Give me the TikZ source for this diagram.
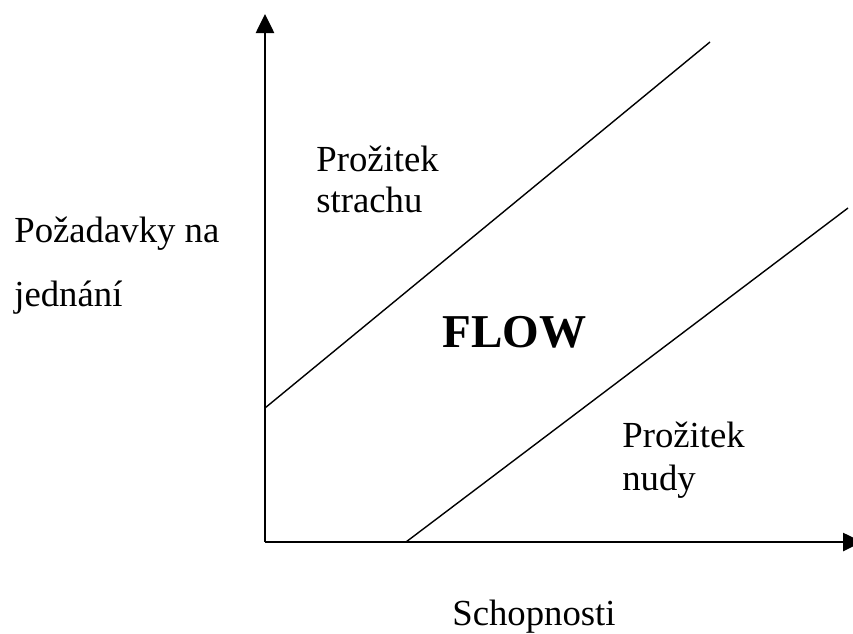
\documentclass[tikz,border=0pt]{standalone}
\usepackage{fontspec}
\setmainfont{Liberation Serif}
\usepackage{tikz}
\usetikzlibrary{positioning,arrows.meta,calc}

\begin{document}
\begin{tikzpicture}[font=\fontsize{20.9}{25}\selectfont,
      lbl/.style={inner sep=0pt,anchor=base west},
      axis/.style={line width=1.5pt,-{Triangle[length=0.38cm,width=0.36cm]}},
      bound/.style={line width=0.8pt}]
    \useasboundingbox (-5.30,-1.82) rectangle (11.76,10.84);
    % axes
    \coordinate (O) at (0,0);
    \coordinate (ytip) at (0,10.56);
    \coordinate (xtip) at (11.94,0);
    \draw[axis] (O) -- (ytip);
    \draw[axis] (O) -- (xtip);
    % channel borders
    \coordinate (upA) at (0,2.68);
    \coordinate (upB) at (8.9,10.0);
    \coordinate (loA) at (2.82,0);
    \coordinate (loB) at (11.66,6.68);
    \draw[bound] (upA) -- (upB);
    \draw[bound] (loA) -- (loB);
    % labels
    \node[lbl] (demand1) at (-5.02,6.00) {Požadavky na};
    \node[lbl] (demand2) at (-5.02,4.72) {jednání};
    \node[lbl] (fear1) at (1.02,7.42) {Prožitek};
    \node[lbl] (fear2) at (1.02,6.60) {strachu};
    \node[lbl,font=\fontsize{26.8}{30}\selectfont\bfseries] (flow) at (3.54,3.90) {FLOW};
    \node[lbl] (bore1) at (7.14,1.90) {Prožitek};
    \node[lbl] (bore2) at (7.14,1.04) {nudy};
    \node[lbl] (skill) at (3.74,-1.66) {Schopnosti};
  \end{tikzpicture}
\end{document}
